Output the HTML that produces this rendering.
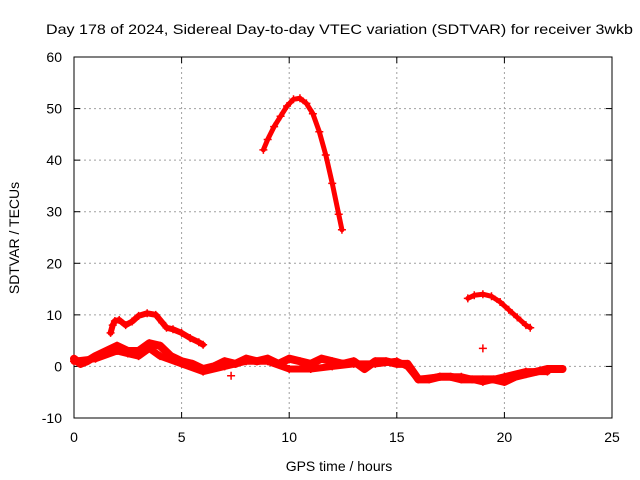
<!DOCTYPE html>
<html><head><meta charset="utf-8"><style>
body{margin:0;background:#fff}
svg{display:block;font-family:"Liberation Sans",sans-serif}
</style></head><body>
<svg id="chart" width="640" height="480">
<text x="339.5" y="34" font-size="14" text-anchor="middle" textLength="587" lengthAdjust="spacingAndGlyphs">Day 178 of 2024, Sidereal Day-to-day VTEC variation (SDTVAR) for receiver 3wkb</text>
<g id="grid"></g>
<g id="axes"></g>
<g id="series"></g>
<text x="339" y="471" font-size="14" text-anchor="middle">GPS time / hours</text>
<text x="19" y="238" font-size="14" text-anchor="middle" transform="rotate(-90 19 238)">SDTVAR / TECUs</text>
</svg>
<script>
const xTicks=[0,5,10,15,20,25];
const yTicks=[-10,0,10,20,30,40,50,60];
const arcHighX=[8.8,9.0,9.3,9.6,9.9,10.2,10.5,10.8,11.1,11.4,11.7,12.0,12.3,12.45];
const arcHighY=[42,44,46.5,48.5,50.5,51.8,52,51,49,45.5,41,35.5,29.5,26.5];
const arcLateX=[18.3,18.6,19.0,19.4,19.8,20.2,20.6,21.0,21.2];
const arcLateY=[13.2,13.8,14,13.6,12.5,11,9.5,8,7.5];
const earlyX=[1.7,1.8,1.9,2.1,2.4,2.7,3.0,3.4,3.8,4.1,4.3,4.6,5.0,5.4,5.8,6.0];
const earlyY=[6.5,8,8.8,9,8,8.7,9.8,10.3,10,8.5,7.5,7.2,6.5,5.5,4.7,4.2];
const baseX=[0,0.3,0.6,1.0,1.5,2.0,2.5,3.0,3.5,4.0,4.5,5.0,5.5,6.0,6.5,7.0,7.5,8,8.5,9,9.5,10,10.5,11,11.5,12,12.5,13,13.5,14,14.5,15,15.5,16,16.5,17,17.5,18,18.5,19,19.5,20,20.5,21,21.5,22,22.5,22.7];
const baseY=[1.5,0.5,1,2,3,4,3,3,4.5,4,2,1,0.5,-0.5,0,1,0.5,1.5,1,1.5,0.5,1.5,1,0.5,1.5,1,0.5,1,-0.5,1,1,0.5,0.5,-2.5,-2.5,-2,-2,-2.5,-2.5,-2.5,-2.5,-3,-2,-1.5,-1,-0.5,-0.5,-0.5];
const lowX=[0,1,2,2.5,3,3.5,4,5,6,7,8,9,10,11,12,13,14,15,15.5,16,17,18,19,20,21,22];
const lowY=[1,1.5,3,2.5,2,3.5,2,0.5,-1,0,1,1,-0.5,-0.5,0,0.5,0.5,1,0,-2.5,-2,-2,-3,-2,-1,-1];
const isoX=[19.0,7.3];
const isoY=[3.5,-1.8];

const L=74,R=612,T=57,B=418;
const sx=v=>L+(v-0)/25*(R-L);
const sy=v=>B-(v+10)/70*(B-T);
const NS="http://www.w3.org/2000/svg";
function mk(tag,attrs,parent){const e=document.createElementNS(NS,tag);for(const k in attrs)e.setAttribute(k,attrs[k]);parent.appendChild(e);return e;}
const grid=document.getElementById('grid'),axes=document.getElementById('axes'),ser=document.getElementById('series');
xTicks.forEach(t=>{
  if(t>0&&t<25){const g=mk('line',{x1:sx(t),x2:sx(t),y1:T,y2:B,stroke:'#a0a0a0','stroke-dasharray':'2,3'},grid);
  
  }
  mk('line',{x1:sx(t),x2:sx(t),y1:B,y2:B-6,stroke:'#000'},axes);
  mk('line',{x1:sx(t),x2:sx(t),y1:T,y2:T+6,stroke:'#000'},axes);
  const tx=mk('text',{x:sx(t),y:B+24,'font-size':14,'text-anchor':'middle'},axes);tx.textContent=t;
  
  
});
yTicks.forEach(t=>{
  if(t>-10&&t<60){const g=mk('line',{x1:L,x2:R,y1:sy(t),y2:sy(t),stroke:'#a0a0a0','stroke-dasharray':'2,3'},grid);
  
  }
  mk('line',{x1:L,x2:L+6,y1:sy(t),y2:sy(t),stroke:'#000'},axes);
  mk('line',{x1:R,x2:R-6,y1:sy(t),y2:sy(t),stroke:'#000'},axes);
  const tx=mk('text',{x:L-12,y:sy(t)+5,'font-size':14,'text-anchor':'end'},axes);tx.textContent=t;
  
  
});
mk('rect',{x:L,y:T,width:R-L,height:B-T,fill:'none',stroke:'#000'},axes);
function series(xs,ys,name,line,w){
  const g=mk('g',{},ser);
  
  
  if(line){mk('polyline',{points:xs.map((x,i)=>sx(x)+','+sy(ys[i])).join(' '),fill:'none',stroke:'#f00','stroke-width':w,'stroke-linejoin':'round','stroke-linecap':'round'},g);}
  xs.forEach((x,i)=>{const cx=sx(x),cy=sy(ys[i]);
    mk('path',{d:`M${cx-4},${cy}H${cx+4}M${cx},${cy-4}V${cy+4}`,stroke:'#f00','stroke-width':1.5},g);});
}
series(arcHighX,arcHighY,'series-midday-arc',true,5);
series(arcLateX,arcLateY,'series-evening-arc',true,5);
series(earlyX,earlyY,'series-morning-upper',true,6);
series(baseX,baseY,'series-baseline',true,8);
series(lowX,lowY,'series-baseline-lower',true,7);
series(isoX,isoY,'series-isolated-points',false,0);
</script>
</body></html>
